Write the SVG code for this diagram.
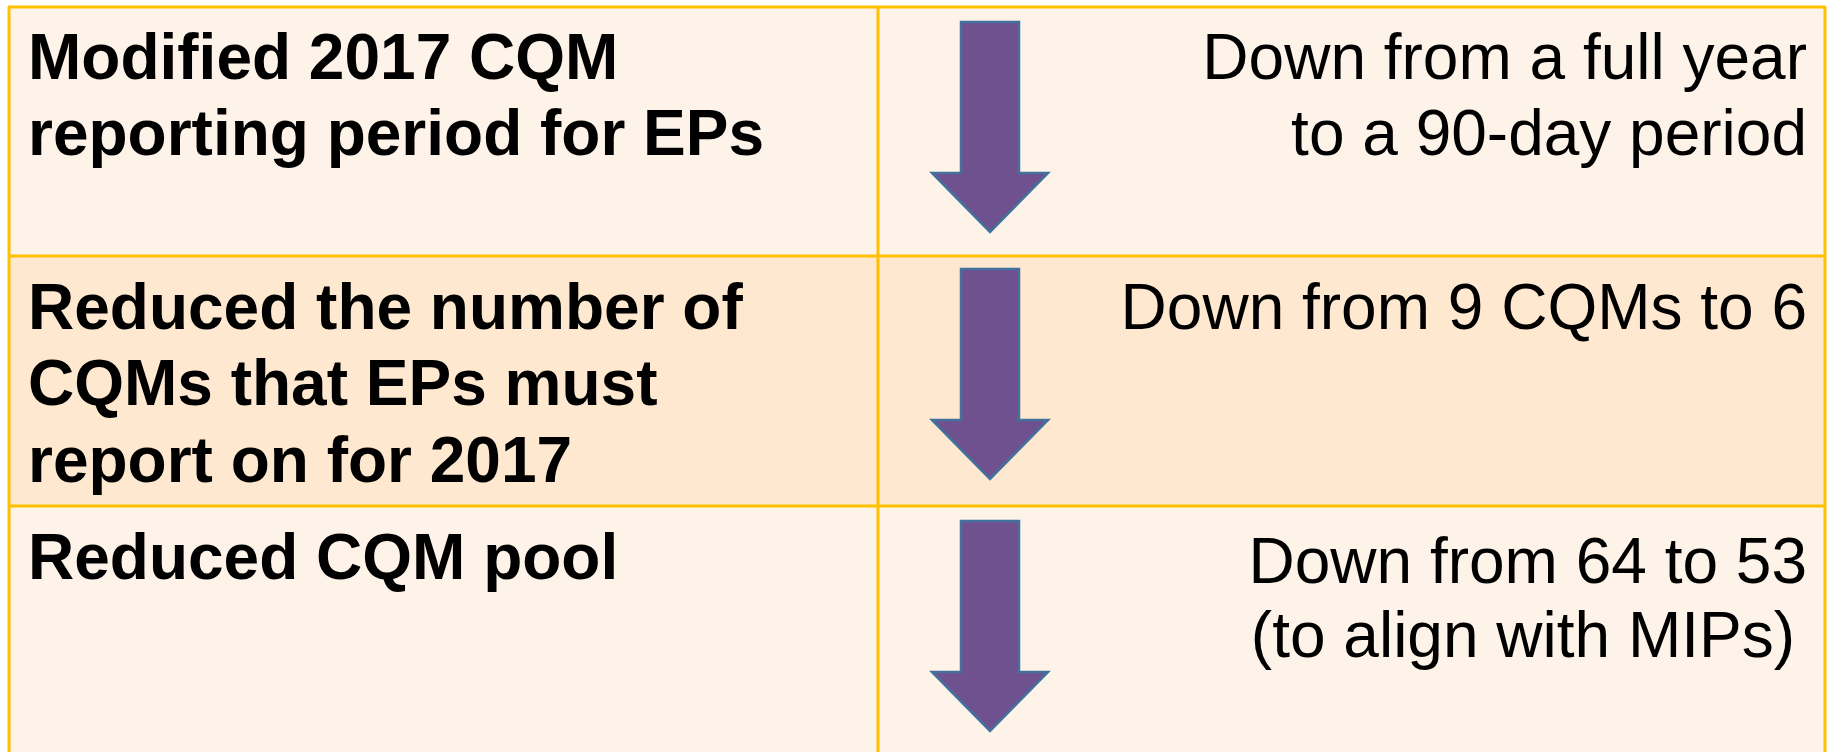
<svg xmlns="http://www.w3.org/2000/svg" width="1829" height="752" viewBox="0 0 1829 752">
  <style>
    .band1 { fill: #FEF3E8; }
    .band2 { fill: #FEE8CF; }
    .grid { stroke: #FFC000; stroke-width: 3; fill: none; }
    .head { font-family: "Liberation Sans", Arial, sans-serif; font-size: 64px; font-weight: bold; fill: #000; }
    .note { font-family: "Liberation Sans", Arial, sans-serif; font-size: 64px; fill: #000; text-anchor: end; }
    .down { fill: #6F5190; stroke: #41719C; stroke-width: 2.5; stroke-linejoin: miter; }
  </style>
  <defs>
    <polygon id="downArrow" points="961,0 1019,0 1019,151 1048,151 990,210 932,151 961,151"/>
  </defs>

  <rect width="1829" height="752" fill="#FFFFFF"/>

  <!-- row backgrounds -->
  <rect class="band1" x="8" y="7" width="1818" height="249"/>
  <rect class="band2" x="8" y="256" width="1818" height="250"/>
  <rect class="band1" x="8" y="506" width="1818" height="246"/>

  <!-- table rules -->
  <g id="grid">
    <path class="grid" d="M8,7 H1826 M8,256 H1826 M8,506 H1826 M9,7 V752 M1825,7 V752 M878,7 V752"/>
  </g>

  <g id="row1">
    <text class="head" x="28" y="79">Modified 2017 CQM</text>
    <text class="head" x="28" y="155">reporting period for EPs</text>
    <text class="note" x="1807" y="79">Down from a full year</text>
    <text class="note" x="1807" y="155">to a 90-day period</text>
  </g>

  <g id="row2">
    <text class="head" x="28" y="329">Reduced the number of</text>
    <text class="head" x="28" y="405">CQMs that EPs must</text>
    <text class="head" x="28" y="482">report on for 2017</text>
    <text class="note" x="1807" y="329">Down from 9 CQMs to 6</text>
  </g>

  <g id="row3">
    <text class="head" x="28" y="579">Reduced CQM pool</text>
    <text class="note" x="1807" y="583">Down from 64 to 53</text>
    <text class="note" x="1795" y="657">(to align with MIPs)</text>
  </g>

  <!-- downward arrows in the middle column -->
  <g id="arrows">
    <use href="#downArrow" class="down" transform="translate(0,22)"/>
    <use href="#downArrow" class="down" transform="translate(0,269)"/>
    <use href="#downArrow" class="down" transform="translate(0,521)"/>
  </g>
</svg>
